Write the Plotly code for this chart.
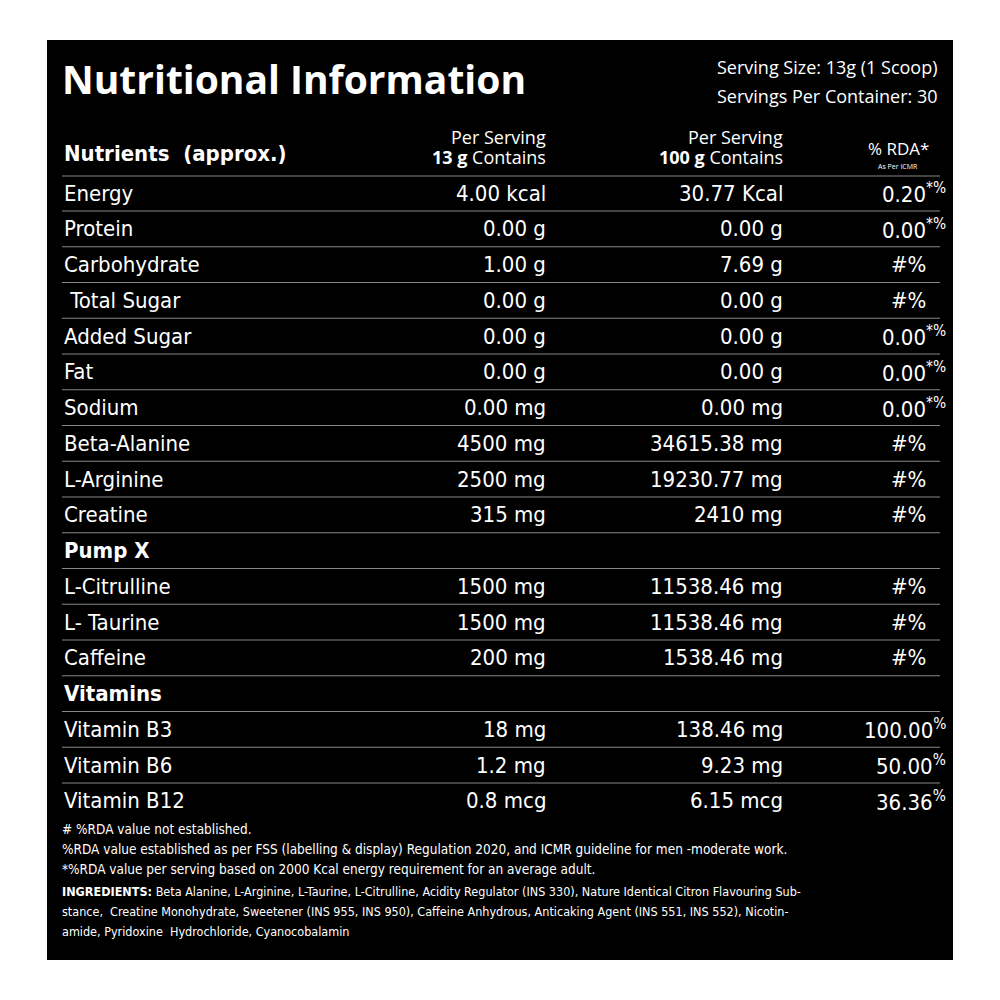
import plotly.graph_objects as go

labels = ["Energy","Protein","Carbohydrate"," Total Sugar","Added Sugar","Fat","Sodium",
          "Beta-Alanine","L-Arginine","Creatine","Pump X","L-Citrulline","L- Taurine","Caffeine",
          "Vitamins","Vitamin B3","Vitamin B6","Vitamin B12"]
per_serving = ["4.00 kcal","0.00 g","1.00 g","0.00 g","0.00 g","0.00 g","0.00 mg",
               "4500 mg","2500 mg","315 mg","","1500 mg","1500 mg","200 mg",
               "","18 mg","1.2 mg","0.8 mcg"]
per_100g = ["30.77 Kcal","0.00 g","7.69 g","0.00 g","0.00 g","0.00 g","0.00 mg",
            "34615.38 mg","19230.77 mg","2410 mg","","11538.46 mg","11538.46 mg","1538.46 mg",
            "","138.46 mg","9.23 mg","6.15 mcg"]
rda = ["0.20","0.00","#%","#%","0.00","0.00","0.00","#%","#%","#%","","#%","#%","#%",
       "","100.00","50.00","36.36"]
rda_sup = ["*%","*%","","","*%","*%","*%","","","","","","","","","%","%","%"]
section = ["Pump X","Vitamins"]
footnotes = ["# %RDA value not established.",
             "%RDA value established as per FSS (labelling & display) Regulation 2020, and ICMR guideline for men -moderate work.",
             "*%RDA value per serving based on 2000 Kcal energy requirement for an average adult."]
ingredients = ["<b>INGREDIENTS:</b> Beta Alanine, L-Arginine, L-Taurine, L-Citrulline, Acidity Regulator (INS 330), Nature Identical Citron Flavouring Sub-",
               "stance,  Creatine Monohydrate, Sweetener (INS 955, INS 950), Caffeine Anhydrous, Anticaking Agent (INS 551, INS 552), Nicotin-",
               "amide, Pyridoxine  Hydrochloride, Cyanocobalamin"]

F = "DejaVu Sans Condensed, Liberation Sans Narrow, sans-serif"
O = "Open Sans, sans-serif"
W = "white"
fig = go.Figure()
shapes = [dict(type="rect", x0=47, x1=953, y0=40, y1=960, fillcolor="black", line_width=0, layer="below")]
ann = []
def A(x, y, t, size, anchor="left", bold=False, family=F, va="middle"):
    ann.append(dict(x=x, y=y, text=f"<b>{t}</b>" if bold else t, showarrow=False, xanchor=anchor,
                    yanchor=va, font=dict(color=W, size=size, family=family)))

A(60, 78, "Nutritional Information", 39, bold=True, family=O)
A(940, 67, "Serving Size: 13g (1 Scoop)", 18, "right", family=O)
A(940, 96, "Servings Per Container: 30", 18, "right", family=O)
A(62, 153, "Nutrients  (approx.)", 22, bold=True)
A(548, 137, "Per Serving", 18, "right", family=O)
A(548, 157, "<b>13 g</b> Contains", 18, "right", family=O)
A(785, 137, "Per Serving", 18, "right", family=O)
A(785, 157, "<b>100 g</b> Contains", 18, "right", family=O)
A(898, 148, "% RDA*", 17, "center", family=O)
A(898, 166, "As Per ICMR", 7, "center", family=O)

y0, step = 193, 35.75
shapes.append(dict(type="line", x0=62, x1=940, y0=176, y1=176, line=dict(color="#888", width=1)))
for i, lab in enumerate(labels):
    y = y0 + i * step
    A(62, y, lab, 22, bold=lab in section)
    if per_serving[i]:
        A(548, y, per_serving[i], 22, "right")
        A(785, y, per_100g[i], 22, "right")
    if rda[i]:
        txt = rda[i] + (f"<sup>{rda_sup[i]}</sup>" if rda_sup[i] else "")
        A(948 if rda_sup[i] else 928, y, txt, 22, "right")
    if i < len(labels) - 1:
        shapes.append(dict(type="line", x0=62, x1=940, y0=y + 18, y1=y + 18, line=dict(color="#888", width=1)))

for i, t in enumerate(footnotes):
    A(60, 829 + i * 20, t, 13.5, family=F)
for i, t in enumerate(ingredients):
    A(60, 891 + i * 20, t, 12.5, family=F)

fig.update_layout(width=1000, height=1000, margin=dict(l=0, r=0, t=0, b=0),
                  paper_bgcolor="white", plot_bgcolor="white", shapes=shapes, annotations=ann,
                  xaxis=dict(range=[8, 1008], visible=False, fixedrange=True),
                  yaxis=dict(range=[1008, 8], visible=False, fixedrange=True), showlegend=False)
fig.write_html("out.html")
